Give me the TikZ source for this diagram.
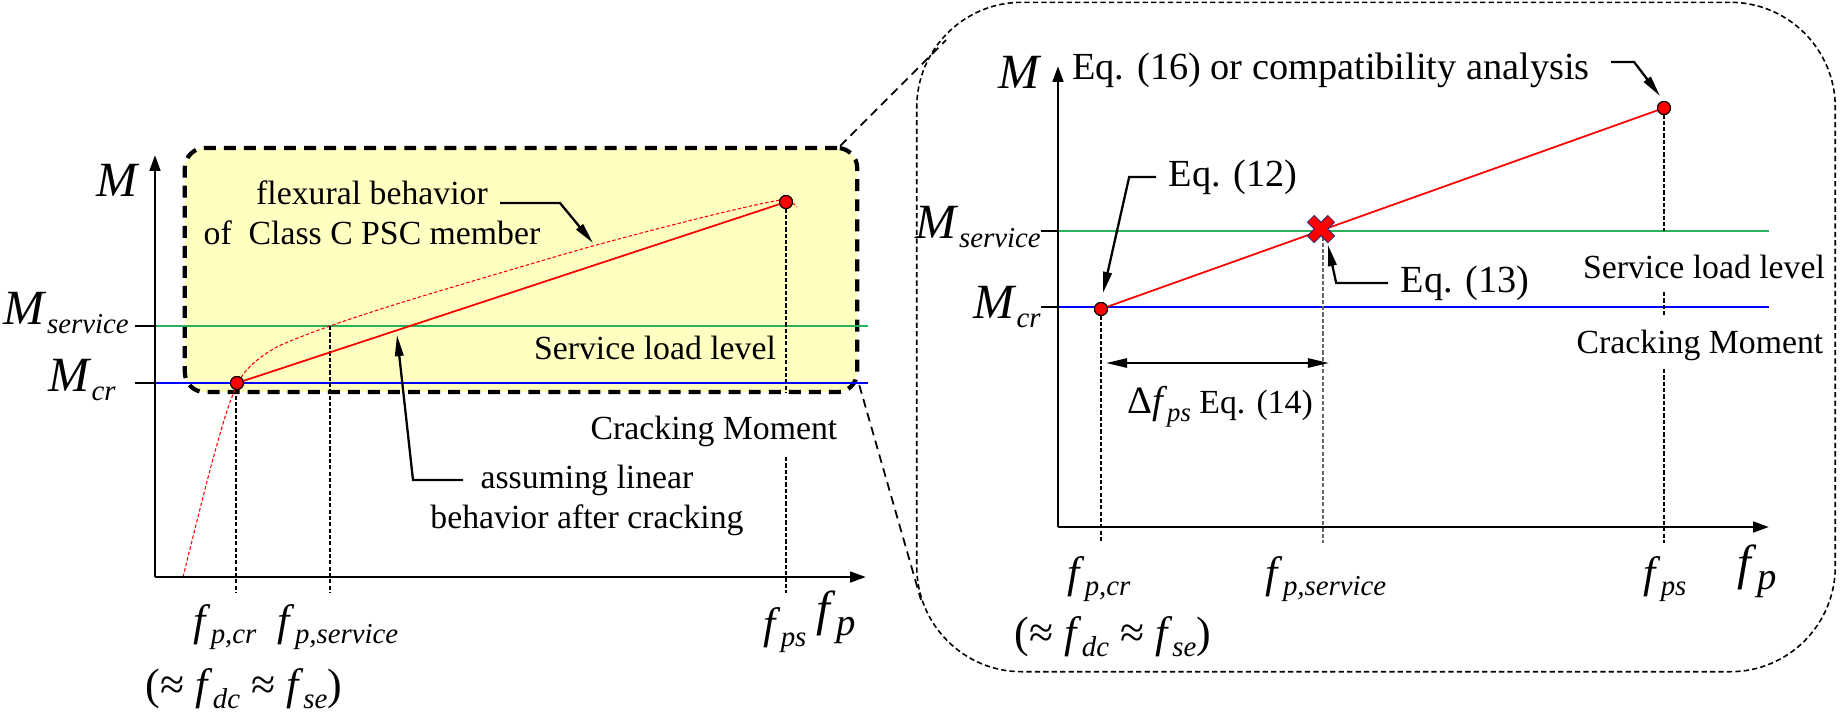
\documentclass[tikz,border=0pt]{standalone}
\usepackage{amsmath}
\usepackage{fontspec}
\setmainfont{Liberation Serif}
\usetikzlibrary{arrows.meta,positioning,calc}

\definecolor{boxyellow}{RGB}{255,255,194}
\definecolor{svcgreen}{RGB}{40,178,90}
\definecolor{xnavy}{RGB}{40,40,120}

% italic symbol with lowered italic index
\newcommand{\sv}[4][8.2]{{\fontsize{#2}{#2}\selectfont\textit{#3}\raisebox{-0.2em}{\fontsize{#1}{#1}\selectfont\textit{#4}}}}

\begin{document}
\begin{tikzpicture}[x=0.01cm, y=-0.01cm]
    % Define styles
    \tikzstyle{axisline} = [line width=0.8pt, -{Triangle[length=4.5pt,width=3pt]}]
    \tikzstyle{tickmark} = [line width=0.4pt]
    \tikzstyle{guide} = [line width=0.35pt, dash pattern=on 1.2pt off 0.6pt]
    \tikzstyle{svc} = [line width=0.5pt, svcgreen]
    \tikzstyle{crk} = [line width=0.4pt, blue]
    \tikzstyle{linear} = [line width=0.5pt, red]
    \tikzstyle{real} = [line width=0.3pt, red, dash pattern=on 1pt off 0.6pt]
    \tikzstyle{dot} = [circle, draw=black, line width=0.3pt, fill=red, minimum size=0.13cm, inner sep=0pt]
    \tikzstyle{pointer} = [line width=0.65pt, -{Triangle[length=6pt,width=2.4pt]}]
    \tikzstyle{dimarrow} = [line width=0.65pt, {Triangle[length=6pt,width=2.6pt]}-{Triangle[length=6pt,width=2.6pt]}]
    \tikzstyle{note} = [font=\fontsize{9.6}{11.4}\selectfont, align=center]
    \tikzstyle{eqnote} = [font=\fontsize{10.9}{12}\selectfont]
    \tikzstyle{sym} = [inner sep=1pt]
    \tikzstyle{link} = [line width=0.5pt, dash pattern=on 2.5pt off 1.6pt]
    \tikzstyle{zoomsmall} = [rectangle, rounded corners=0.2cm, draw=black, line width=1.2pt, dash pattern=on 3.4pt off 2.3pt, fill=boxyellow, minimum width=6.72cm, minimum height=2.44cm, inner sep=0pt]
    \tikzstyle{zoombig} = [rectangle, rounded corners=1.05cm, draw=black, line width=0.45pt, dash pattern=on 1.5pt off 0.9pt, minimum width=9.18cm, minimum height=6.69cm, inner sep=0pt]

    \useasboundingbox (0,0) rectangle (1844,720);

    % Frames
    \node (zoomR) [zoombig] at (1376,337) {};
    \node (zoomL) [zoomsmall] at (521,270) {};

    % Left plot: levels and curves
    \draw [svc] (155,326) -- (868,326);
    \draw [crk] (155,383) -- (868,383);
    \draw [real] plot[smooth] coordinates {(183,577) (210,470) (229,405) (245,372) (275,348) (330,326) (400,303) (500,273) (600,244) (700,218) (760,204) (786,200) (797,207)};
    \draw [guide] (236,383) -- (236,593);
    \draw [guide] (330,326) -- (330,593);
    \draw [guide] (786,202) -- (786,392);
    \draw [guide] (786,457) -- (786,593);
    \draw [axisline] (155,577) -- (155,155);
    \draw [axisline] (155,577) -- (866,577);
    \draw [tickmark] (135,326) -- (155,326);
    \draw [tickmark] (135,383) -- (155,383);
    \node (crL) [dot] at (237,383) {};
    \node (psL) [dot] at (786,202) {};
    \draw [linear] (crL) -- (psL);
    \node (crL) [dot] at (237,383) {};
    \node (psL) [dot] at (786,202) {};

    % Left plot: texts
    \node (ML) [sym] at (118,180) {\fontsize{14}{14}\selectfont\textit{M}};
    \node (MsvL) [sym, anchor=east] at (133,313) {\sv{14}{M}{service}};
    \node (McrL) [sym, anchor=east] at (120,380) {\sv{14}{M}{cr}};
    \node (fcrL) [sym] at (225,627) {\sv{12.5}{f}{p,cr}};
    \node (fsvL) [sym] at (338,627) {\sv{12.5}{f}{p,service}};
    \node (fdcL) [sym] at (244,689) {\fontsize{12.5}{12.5}\selectfont(≈ \sv{12.5}{f}{dc} ≈ \sv{12.5}{f}{se})};
    \node (fpsL) [sym] at (785,630) {\sv{12.5}{f}{ps}};
    \node (fpL) [sym] at (836,617) {\sv[11]{14}{f}{p}};
    \node (svcL) [note] at (655,348) {Service load level};
    \node (crkL) [note] at (714,431) {Cracking Moment};
    \node (flex) [note] at (372,213) {flexural behavior\\of~ Class C PSC member};
    \node (assume) [note] at (587,500) {assuming linear\\behavior after cracking};

    % Left plot: pointers
    \coordinate (flexTail) at (500,203);
    \coordinate (flexTip) at (593,243);
    \coordinate (assumeTail) at (463,480);
    \coordinate (assumeTip) at (397,335);
    \draw [pointer] (flexTail) -- (560,203) -- (flexTip);
    \draw [pointer] (assumeTail) -- (413,480) -- (assumeTip);

    % Right plot: levels and curves
    \draw [svc] (1058,231) -- (1769,231);
    \draw [crk] (1058,307) -- (1769,307);
    \draw [guide] (1101,309) -- (1101,543);
    \draw [guide, black!60] (1323,230) -- (1323,543);
    \draw [guide] (1664,108) -- (1664,231);
    \draw [guide] (1664,292) -- (1664,315);
    \draw [guide] (1664,369) -- (1664,543);
    \draw [axisline] (1058,527) -- (1058,66);
    \draw [axisline] (1058,527) -- (1769,527);
    \draw [tickmark] (1041,231) -- (1058,231);
    \draw [tickmark] (1041,307) -- (1058,307);
    \node (crR) [dot] at (1101,309) {};
    \node (psR) [dot] at (1664,108) {};
    \draw [linear] (crR) -- (psR);
    \node (crR) [dot] at (1101,309) {};
    \node (psR) [dot] at (1664,108) {};
    \coordinate (svR) at (1321,229);
    \draw [xnavy, line width=3pt] ($(svR)+(-10.5,-10.5)$) -- ($(svR)+(10.5,10.5)$) ($(svR)+(-10.5,10.5)$) -- ($(svR)+(10.5,-10.5)$);
    \draw [red, line width=2.4pt] ($(svR)+(-9.9,-9.9)$) -- ($(svR)+(9.9,9.9)$) ($(svR)+(-9.9,9.9)$) -- ($(svR)+(9.9,-9.9)$);

    % Right plot: texts
    \node (MR) [sym] at (1020,72) {\fontsize{14}{14}\selectfont\textit{M}};
    \node (MsvR) [sym, anchor=east] at (1045,227) {\sv{14}{M}{service}};
    \node (McrR) [sym, anchor=east] at (1045,307) {\sv{14}{M}{cr}};
    \node (fcrR) [sym] at (1099,579) {\sv{12.5}{f}{p,cr}};
    \node (fsvR) [sym] at (1326,579) {\sv{12.5}{f}{p,service}};
    \node (fdcR) [sym] at (1113,637) {\fontsize{12.5}{12.5}\selectfont(≈ \sv{12.5}{f}{dc} ≈ \sv{12.5}{f}{se})};
    \node (fpsR) [sym] at (1665,579) {\sv{12.5}{f}{ps}};
    \node (fpR) [sym] at (1757,571) {\sv[11]{14}{f}{p}};
    \node (svcR) [note] at (1704,267) {Service load level};
    \node (crkR) [note] at (1700,345) {Cracking Moment};
    \node (eq16) [eqnote] at (1331,70) {Eq. (16) or compatibility analysis};
    \node (eq12) [eqnote] at (1233,177) {Eq. (12)};
    \node (eq13) [eqnote] at (1465,283) {Eq. (13)};
    \node (eq14) [note] at (1220,407) {{\fontsize{11}{11}\selectfont Δ}\sv[7.6]{11}{f}{ps} Eq. (14)};

    % Right plot: pointers
    \coordinate (tip16) at (1660,96);
    \coordinate (tip12) at (1103,293);
    \coordinate (tip13) at (1328,245);
    \coordinate (dimL) at (1106,363);
    \coordinate (dimR) at (1329,363);
    \draw [pointer] ([shift={(9,-8)}]eq16.east) -- ++(23,0) -- (tip16);
    \draw [pointer] (eq12.west) -- ++(-27,0) -- (tip12);
    \draw [pointer] (eq13.west) -- ++(-52,0) -- (tip13);
    \draw [dimarrow] (dimL) -- (dimR);

    % Links between frames
    \coordinate (linkTop) at (946,40);
    \coordinate (linkBot) at (921,600);
    \draw [link] ([xshift=-0.19cm]zoomL.north east) -- (linkTop);
    \draw [link] ([yshift=0.09cm]zoomL.south east) -- (linkBot);
\end{tikzpicture}
\end{document}
